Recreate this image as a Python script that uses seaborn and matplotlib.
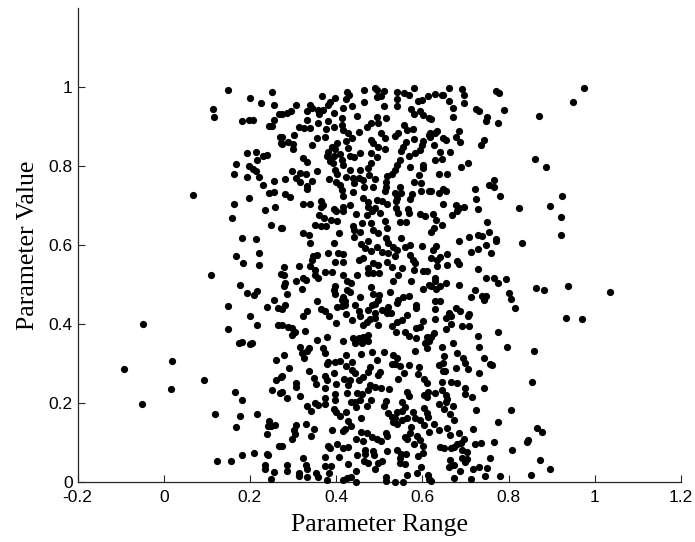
import matplotlib
matplotlib.use("Agg")
import matplotlib.pyplot as plt
import pandas as pd
import seaborn as sns

sns.set_theme(style="ticks")
plt.rcParams['font.family'] = ['Liberation Sans', 'DejaVu Sans']

# values, one pair of lists per part of the cloud
range_left = [.148,.200,.252,.226,.255,.114,.117,.268,.181,.197,.206,.255,.245,.251,.270,.272,.194,.213,.230,.239,.216,.168,.197,.206,.213,.162,.194,.220,.255,.230,.245,.255,.068,.197,.162,.236,.258,.158,.248,.272,.181,.213,.220,.168,.184,.220,.110,.272,
              .178,.194,.216,.210,.255,.148,.239,.264,.200,-.048,.216,.264,.148,.175,.181,.200,.204,.020,.261,-.093,.094,.261,.272,.017,.165,.252,.270,.181,-.051,.120,.216,.178,.245,.258,.242,.248,.168,.239,.268,.210,.181,.239,.243,.123,.155,.236,.236,.255,.249]
value_left = [.993,.973,.987,.959,.955,.944,.923,.931,.913,.916,.916,.916,.902,.902,.874,.857,.832,.835,.825,.829,.815,.804,.801,.793,.787,.780,.773,.773,.762,.753,.731,.734,.727,.720,.704,.689,.695,.668,.650,.643,.618,.615,.580,.573,.555,.549,.524,.527,
              .499,.478,.484,.474,.460,.446,.443,.440,.419,.401,.397,.397,.387,.352,.355,.349,.352,.306,.310,.285,.257,.257,.265,.236,.229,.232,.225,.208,.197,.173,.173,.166,.155,.145,.142,.142,.138,.121,.092,.074,.068,.071,.068,.053,.053,.043,.032,.025,.008]

range_top = [.274,.287,.296,.306,.340,.333,.345,.357,.368,.398,.386,.382,.370,.361,.394,.425,.430,.422,.416,.436,.465,.465,.490,.494,.510,.494,.504,.510,.542,.558,.568,.542,.542,.581,.612,.591,.600,.574,.581,.595,.602,.616,
             .448,.413,.494,.516,.359,.381,.394,.377,.332,.313,.326,.340,.413,.417,.428,.436,.454,.471,.480,.496,.504,.513,.558,.564,.544,.537,.579,.581,.616,.602,
             .303,.274,.274,.289,.301,.299,.374,.355,.345,.403,.422,.428,.480,.485,.496,.513,.562,.556,.550,.599,.595,.584,.568,
             .390,.398,.382,.378,.394,.386,.392,.409,.413,.417,.432,.442,.456,.481,.494,.480,.473,.456,.432,.398,.401,.323,.332,.602,.602,.571,.548,.542,.537,.529,.517,.516,.516,.513,
             .297,.316,.330,.355,.281,.306,.316,.345,.332,.332,.384,.400,.422,.409,.413,.417,.439,.440,.452,.442,.463,.465,.477,.490,.486,.593,.581,.596,.596,.616,.548,.550,.537,.541,.575,.571,
             .282,.293,.323,.340,.364,.369,.364,.417,.432,.463,.475,.475,.494,.506,.519,.538,.538,.566,.490,.394]
value_top = [.932,.935,.939,.955,.954,.938,.946,.943,.976,.973,.963,.954,.942,.932,.934,.987,.981,.969,.948,.952,.993,.962,.997,.992,.991,.974,.977,.952,.988,.984,.980,.970,.952,.997,.977,.965,.967,.945,.932,.938,.929,.921,
             .927,.921,.925,.921,.908,.914,.900,.893,.916,.900,.895,.895,.904,.891,.883,.870,.887,.898,.908,.908,.883,.870,.904,.891,.883,.877,.893,.868,.878,.864,
             .878,.874,.856,.862,.856,.842,.874,.870,.853,.857,.864,.846,.866,.857,.847,.842,.862,.849,.838,.853,.840,.832,.825,
             .849,.842,.836,.825,.825,.813,.807,.830,.815,.802,.825,.822,.832,.832,.822,.807,.794,.790,.791,.790,.781,.819,.811,.802,.794,.797,.815,.802,.790,.780,.775,.760,.748,.737,
             .787,.783,.780,.787,.766,.770,.760,.763,.749,.741,.766,.760,.773,.752,.739,.724,.735,.769,.769,.756,.764,.746,.777,.767,.748,.776,.759,.756,.737,.737,.746,.731,.731,.718,.729,.716,
             .729,.721,.703,.703,.711,.701,.695,.697,.701,.718,.710,.695,.714,.712,.705,.712,.693,.690,.693,.690]

range_mid = [.275,.323,.336,.340,.351,.364,.361,.372,.377,.387,.403,.400,.417,.446,.407,.394,.381,.405,.415,.355,.347,.343,.398,.415,.452,.463,
             .440,.459,.442,.456,.442,.458,.473,.467,.480,.494,.506,.486,.496,.475,.473,.486,.500,.471,.483,.502,.480,.513,.486,.498,.517,.516,.521,.533,.521,.537,.517,.529,.552,.544,.533,.573,.602,.610,.602,.616,
             .544,.568,.595,.606,.547,.562,.600,.550,.571,.560,.542,.571,.579,.583,.581,
             .279,.278,.313,.340,.351,.351,.359,.374,.390,.417,.448,.425,.434,.306,.324,.330,.282,.279,.320,.287,
             .398,.394,.425,.432,.398,.417,.413,.421,.421,.401,.413,.355,.456,.480,.486,.500,.498,.490,.483,.525,.568,.556,.544,.541,.585,.585,.444,.452,.456,.475,.282,.274,.364,.374,.332,.324,.384,.422,.436,.400,
             .490,.506,.517,.527,.521,.490,.479,.471,.463,.498,.564,.552,.541,.529,.538,.602,.595,.585,.560,.568,.585,.274,.289,.297,.305,.297,.328,.355,.378,.417,.440,.452,.463,.475,.473,
             .316,.336,.370,.444,.459,.610,.616,.606,.610]
value_mid = [.643,.630,.626,.605,.651,.647,.676,.668,.647,.664,.661,.685,.687,.679,.630,.605,.581,.581,.577,.575,.571,.562,.556,.558,.562,.567,
             .648,.655,.637,.634,.621,.602,.609,.592,.586,.596,.583,.554,.550,.541,.529,.529,.529,.676,.685,.682,.655,.661,.638,.630,.643,.617,.605,.594,.579,.571,.558,.544,.541,.524,.510,.508,.533,.535,.489,.499,
             .681,.682,.679,.674,.659,.657,.598,.617,.600,.596,.588,.575,.562,.554,.537,
             .544,.524,.546,.546,.537,.523,.516,.531,.531,.523,.524,.510,.503,.508,.516,.512,.503,.495,.489,.475,
             .495,.486,.486,.480,.476,.468,.461,.457,.448,.444,.446,.459,.468,.493,.476,.474,.461,.450,.448,.482,.471,.468,.461,.453,.448,.440,.447,.432,.419,.436,.448,.437,.438,.432,.432,.419,.419,.426,.410,.402,
             .427,.436,.427,.427,.444,.415,.412,.406,.398,.398,.423,.410,.404,.394,.379,.408,.392,.389,.381,.370,.364,.398,.392,.389,.381,.372,.383,.360,.366,.356,.364,.364,.368,.372,.358,
             .343,.339,.340,.351,.351,.368,.356,.351,.339]

range_low = [.279,.320,.333,.326,.374,.422,.458,.484,.512,.583,.533,.542,.537,.547,.568,.529,.494,.436,.422,.382,.378,.398,.408,.291,.336,.275,.349,.374,.378,.394,.479,.473,.502,.498,.444,.452,.436,.462,.419,.432,.428,.400,.353,.306,.306,.374,.479,.490,.475,.504,.523,.544,.558,.593,.591,.604,.610,
             .275,.285,.316,.374,.398,.398,.426,.449,.459,.456,.480,.516,.511,.564,.568,.552,.604,.614,.610,.434,.444,.446,.471,.332,.351,.359,.374,.342,.394,.400,.409,.422,
             .604,.560,.552,.541,.521,.529,.537,.533,.541,.552,.564,.579,.583,.595,.604,.610,.614,
             .458,.428,.434,.421,.415,.306,.302,.305,.297,.330,.349,.342,.390,.458,.471,.483,.494,.504,.516,.519,.574,.571,.560,.565,.587,.595,.616,.446,.462,.581,.602,
             .274,.382,.386,.403,.417,.427,.467,.467,.485,.488,.519,.542,.562,.550,.548,.560,.548,.591,.602,.323,.374,.407,.449,.465,.475,.506,.496,.490,
             .330,.333,.287,.287,.374,.387,.384,.428,.445,.314,.314,.333,.353,.357,.378,.417,.425,.435,.445,.516,.516,.537,.554,.564,.587,.596,.612,.616]
value_low = [.321,.327,.331,.313,.327,.321,.324,.330,.330,.332,.321,.315,.300,.293,.296,.299,.309,.303,.293,.304,.299,.304,.306,.288,.282,.268,.264,.268,.258,.275,.290,.279,.279,.271,.277,.258,.283,.265,.260,.258,.245,.247,.247,.250,.241,.237,.245,.241,.234,.237,.236,.261,.275,.292,.273,.262,.250,
             .228,.213,.218,.212,.224,.207,.226,.226,.222,.207,.207,.205,.193,.228,.218,.203,.220,.228,.216,.203,.203,.191,.192,.193,.201,.196,.197,.180,.186,.178,.167,.176,
             .188,.189,.180,.178,.174,.165,.161,.153,.147,.157,.161,.178,.161,.158,.144,.174,.165,
             .163,.155,.142,.133,.129,.144,.131,.121,.110,.148,.134,.117,.131,.127,.123,.115,.110,.104,.123,.116,.138,.123,.113,.109,.116,.106,.127,.110,.103,.096,.092,
             .092,.091,.085,.095,.085,.089,.082,.072,.078,.068,.078,.082,.071,.071,.060,.045,.049,.066,.074,.061,.064,.064,.068,.054,.049,.054,.047,.034,
             .044,.032,.044,.028,.040,.040,.023,.046,.028,.022,.015,.012,.022,.013,.005,.005,.009,.012,.001,.012,.003,.001,.001,.018,.023,.037,.018,.007]

range_right = [.661,.629,.645,.649,.693,.697,.770,.777,.976,.661,.671,.697,.950,.725,.732,.790,.621,.671,.751,.748,.776,.870,.684,.678,.635,.630,.618,.618,.649,.655,.687,.742,.735,.626,.642,.664,.629,.645,.706,.690,.861,.886,.639,.658,.767,.754,.767,.722,.621,.649,.655,.639,.725,.780,.925,.649,.678,.696,.684,.728,.825,.896,
               .921,.921,.624,.632,.668,.680,.645,.626,.620,.751,.754,.729,.738,.709,.685,.770,.770,.831,.748,.729,.712,.760,.632,.624,.658,.641,.635,.620,.680,.686,.658,.635,.729,.748,.767,.793,.776,.629,.629,.654,.684,.641,.632,.620,.722,.864,.883,.937,1.035,.802,.806,.712,.738,.748,.742,.629,.641,.815,.678,.687,.629,.709,.706,.661,.654,.667,.629,.667,.693,.709,.654,.934,.970,.776,.729,.626,.620,.671,.645,.732,.796,
               .651,.680,.742,.695,.699,.756,.762,.647,.639,.678,.647,.653,.705,.732,.858,.645,.667,.680,.699,.742,.855,.645,.629,.700,.715,.654,.658,.654,.639,.651,.671,.725,.806,.664,.674,.776,.626,.658,.639,.664,.684,.718,.867,.877,.696,.690,.680,.674,.667,.722,.735,.767,.842,.844,.641,.651,.693,.703,.809,.664,.693,.703,.699,.757,.873,.896,.661,.674,.687,.718,.732,.751,.674,.712,.745,.780,.851,.620]
value_right = [.997,.983,.980,.981,.994,.980,.991,.986,.997,.965,.948,.959,.962,.944,.938,.941,.920,.923,.923,.913,.910,.927,.889,.874,.889,.883,.883,.874,.871,.867,.861,.867,.853,.853,.836,.836,.815,.818,.807,.797,.818,.797,.780,.780,.765,.752,.748,.741,.737,.741,.737,.731,.716,.723,.723,.705,.702,.695,.693,.690,.693,.699,
               .671,.626,.679,.664,.675,.685,.650,.643,.634,.657,.632,.626,.622,.619,.611,.615,.611,.605,.601,.590,.583,.580,.598,.588,.577,.569,.562,.566,.559,.552,.549,.546,.538,.517,.517,.513,.503,.517,.510,.503,.499,.495,.489,.495,.486,.492,.486,.496,.482,.479,.464,.468,.471,.471,.461,.458,.458,.440,.440,.433,.437,.426,.421,.429,.416,.419,.412,.401,.394,.394,.387,.416,.412,.380,.369,.377,.367,.352,.341,.342,.342,
               .320,.327,.315,.313,.302,.299,.295,.302,.296,.289,.282,.281,.285,.277,.332,.253,.253,.250,.239,.239,.253,.233,.226,.222,.214,.220,.210,.203,.197,.186,.193,.183,.183,.173,.158,.152,.147,.137,.131,.120,.123,.134,.137,.127,.109,.099,.095,.088,.085,.095,.099,.102,.102,.106,.088,.085,.082,.077,.081,.056,.060,.058,.050,.060,.056,.032,.039,.043,.028,.032,.039,.035,.011,.007,.014,.014,.018,.002]

x_ticks = [-0.2, 0, 0.2, 0.4, 0.6, 0.8, 1, 1.2]
x_labels = ['-0.2', '0', '0.2', '0.4', '0.6', '0.8', '1', '1.2']
y_ticks = [0, 0.2, 0.4, 0.6, 0.8, 1]
y_labels = ['0', '0.2', '0.4', '0.6', '0.8', '1']

df = pd.DataFrame({
    'Parameter Range': range_left + range_top + range_mid + range_low + range_right,
    'Parameter Value': value_left + value_top + value_mid + value_low + value_right,
})

fig = plt.figure(figsize=(6.95, 5.42), dpi=100)
ax = fig.add_axes([77.5 / 695, 1 - 482 / 542, (681 - 77.5) / 695, 474 / 542])
sns.scatterplot(data=df, x='Parameter Range', y='Parameter Value', ax=ax,
                color='black', s=27, linewidth=0, clip_on=False, zorder=3)

ax.set_xlim(-0.2, 1.2)
ax.set_ylim(0, 1.2)
ax.set_xticks(x_ticks)
ax.set_xticklabels(x_labels)
ax.set_yticks(y_ticks)
ax.set_yticklabels(y_labels)
ax.tick_params(direction='in', length=5, width=0.8, labelsize=12.5, color='#262626',
               labelcolor='black')
ax.tick_params(axis='x', pad=5.5)
ax.tick_params(axis='y', pad=3.5)
ax.set_xlabel('Parameter Range', family=['Liberation Serif'], fontsize=18.5, color='black', labelpad=7)
ax.set_ylabel('Parameter Value', family=['Liberation Serif'], fontsize=18.5, color='black', labelpad=7)
sns.despine(ax=ax)
for side in ['left', 'bottom']:
    ax.spines[side].set_linewidth(0.9)
    ax.spines[side].set_color('#262626')

fig.savefig('out.png', dpi=100)
